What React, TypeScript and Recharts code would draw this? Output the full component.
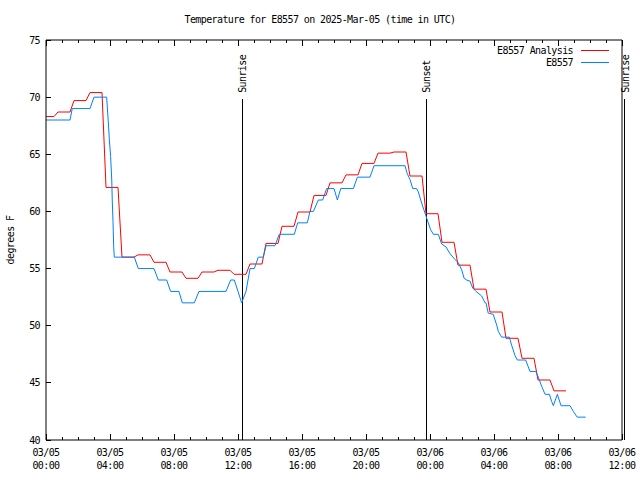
import React from 'react';
import { LineChart, Line, XAxis, YAxis, ReferenceLine } from 'recharts';

const FONT = "'DejaVu Sans Mono', monospace";

// E8557 Analysis: hourly values (hour 0 .. 32)
const analysisHours = [0, 1, 2, 3, 4, 5, 6, 7, 8, 9, 10, 11, 12, 13, 14, 15, 16, 17, 18, 19, 20, 21, 22, 23, 24, 25, 26, 27, 28, 29, 30, 31, 32];
const analysisTemps = [68.3, 68.7, 69.7, 70.4, 62.1, 56.0, 56.2, 55.55, 54.7, 54.15, 54.7, 54.85, 54.5, 55.4, 57.2, 58.7, 59.95, 61.4, 62.5, 63.2, 64.2, 65.1, 65.2, 63.1, 59.8, 57.3, 55.3, 53.2, 51.2, 48.9, 47.15, 45.25, 44.3];

// E8557 observations: hours since 03/05 00:00 UTC
const obsHours = [0, 1.5, 1.64, 2.75, 3.0, 3.79, 3.89, 3.96, 4.04, 4.11, 4.14, 4.19, 4.23, 4.27, 5.52, 5.77, 6.75, 7.02, 7.54, 7.79, 8.31, 8.52, 9.27, 9.56, 11.25, 11.54, 11.77, 12.23, 12.5, 12.75, 13.02, 13.27, 13.58, 13.75, 14.31, 14.58, 15.52, 15.73, 16.33, 16.5, 16.71, 17.02, 17.29, 17.54, 18.0, 18.21, 18.42, 19.21, 19.46, 20.25, 20.5, 22.44, 22.58, 22.75, 22.92, 23.17, 23.27, 23.42, 23.58, 23.75, 23.89, 24.04, 24.21, 24.52, 24.73, 25.0, 25.25, 25.56, 25.77, 25.98, 26.13, 26.29, 26.5, 26.67, 26.88, 27.23, 27.44, 27.5, 27.64, 27.95, 28.17, 28.27, 28.48, 28.96, 29.1, 29.31, 29.46, 29.98, 30.14, 30.25, 30.61, 30.77, 30.98, 31.19, 31.46, 31.61, 31.71, 31.96, 32.19, 32.75, 32.96, 33.2, 33.73];
const obsTemps = [68, 68, 69, 69, 70, 70, 67.9, 66.25, 64.8, 62.75, 61, 59, 56.9, 56, 56, 55, 55, 54, 54, 53, 53, 52, 52, 53, 53, 54, 54, 52, 53, 55, 55, 56, 56, 57, 57, 58, 58, 59, 59, 60, 60, 61, 61, 62, 62, 61, 62, 62, 63, 63, 64, 64, 63.3, 62.8, 62, 62, 61.7, 61, 60.3, 59.6, 59, 58.4, 58, 58, 57.15, 56.9, 56.3, 55.8, 55.5, 54.9, 54.15, 54, 53.9, 53.3, 53, 52.6, 52, 52, 51.1, 51, 50.05, 49.5, 49, 49, 48.3, 47.4, 47, 47, 46.4, 46, 46, 45.5, 44.7, 44, 44, 43.35, 43, 44, 43, 43, 42.5, 42, 42];

// sun events (hours)
const sunEvents = [
  { name: 'Sunrise', hour: 12.25 },
  { name: 'Sunset', hour: 23.75 },
  { name: 'Sunrise', hour: 36.16 },
];

const xMajorHours = [0, 4, 8, 12, 16, 20, 24, 28, 32, 36];
const xDateLabels = ['03/05', '03/05', '03/05', '03/05', '03/05', '03/05', '03/06', '03/06', '03/06', '03/06'];
const xTimeLabels = ['00:00', '04:00', '08:00', '12:00', '16:00', '20:00', '00:00', '04:00', '08:00', '12:00'];
const xAllHours = Array.from({ length: 37 }, (_, i) => i);
const yTicks = [40, 45, 50, 55, 60, 65, 70, 75];

// analysis value holds for 45 min, then ramps to the next hour's value
const analysisData = analysisHours.flatMap((h, i) => [
  { t: Math.max(0, h - 0.25), v: analysisTemps[i] },
  { t: h + 0.5, v: analysisTemps[i] },
]);
const obsData = obsHours.map((t, i) => ({ t, v: obsTemps[i] }));

const textStyle = { fontFamily: FONT, fontSize: 10, letterSpacing: -0.6, fill: '#000' };

const BottomTick = (props: any) => {
  const { x, y, payload } = props;
  const idx = xMajorHours.indexOf(payload.value);
  const major = idx >= 0;
  return (
    <g>
      <line x1={x} y1={y} x2={x} y2={y - (major ? 6 : 3)} stroke="#000" shapeRendering="crispEdges" />
      {major && (
        <>
          <text x={x} y={y + 16} textAnchor="middle" style={textStyle}>{xDateLabels[idx]}</text>
          <text x={x} y={y + 29} textAnchor="middle" style={textStyle}>{xTimeLabels[idx]}</text>
        </>
      )}
    </g>
  );
};

const TopTick = (props: any) => {
  const { x, y, payload } = props;
  const major = xMajorHours.indexOf(payload.value) >= 0;
  return <line x1={x} y1={y} x2={x} y2={y + (major ? 6 : 3)} stroke="#000" shapeRendering="crispEdges" />;
};

const LeftTick = (props: any) => {
  const { x, y, payload } = props;
  return (
    <g>
      <line x1={x} y1={y} x2={x + 5} y2={y} stroke="#000" shapeRendering="crispEdges" />
      <text x={x - 6} y={y} textAnchor="end" dominantBaseline="central" style={textStyle}>{payload.value}</text>
    </g>
  );
};

const RightTick = (props: any) => {
  const { x, y } = props;
  return <line x1={x} y1={y} x2={x - 5} y2={y} stroke="#000" shapeRendering="crispEdges" />;
};

const SunLabel = (props: any) => {
  const vb = props.viewBox || {};
  const x = vb.x ?? vb.x1;
  const y = vb.y ?? Math.min(vb.y1, vb.y2);
  const px = x + 4;
  const py = y - 6;
  return (
    <text x={px} y={py} transform={`rotate(-90 ${px} ${py})`} textAnchor="start" style={textStyle}>
      {props.text}
    </text>
  );
};

const YTitle = () => (
  <text x={14} y={240} transform="rotate(-90 14 240)" textAnchor="middle" style={textStyle}>degrees F</text>
);

const legendRow = (label: string, color: string, top: number) => (
  <div style={{ position: 'absolute', right: 31, top, height: 12, display: 'flex', alignItems: 'center', fontFamily: FONT, fontSize: 10, letterSpacing: -0.6 }}>
    <span>{label}</span>
    <div style={{ width: 28, height: 1, background: color, marginLeft: 8 }} />
  </div>
);

export default function App() {
  return (
    <div style={{ position: 'absolute', left: 0, top: 0, width: 640, height: 480, background: '#fff' }}>
      <div style={{ position: 'absolute', left: 0, top: 14, width: 640, textAlign: 'center', fontFamily: FONT, fontSize: 10, letterSpacing: -0.6 }}>
        Temperature for E8557 on 2025-Mar-05 (time in UTC)
      </div>
      <LineChart width={640} height={480} margin={{ top: 39, right: 17, bottom: 0, left: 0 }}>
        <XAxis
          xAxisId="bottom"
          dataKey="t"
          type="number"
          domain={[0, 36]}
          ticks={xAllHours}
          interval={0}
          allowDataOverflow
          height={40}
          tickSize={0}
          tickMargin={0}
          tickLine={false}
          stroke="#000"
          tick={<BottomTick />}
        />
        <XAxis
          xAxisId="top"
          orientation="top"
          dataKey="t"
          type="number"
          domain={[0, 36]}
          ticks={xAllHours}
          interval={0}
          allowDataOverflow
          height={1}
          tickSize={0}
          tickMargin={0}
          tickLine={false}
          stroke="#000"
          tick={<TopTick />}
        />
        <YAxis
          yAxisId="left"
          type="number"
          domain={[40, 75]}
          ticks={yTicks}
          interval={0}
          width={46}
          tickSize={0}
          tickMargin={0}
          tickLine={false}
          stroke="#000"
          tick={<LeftTick />}
          label={<YTitle />}
        />
        <YAxis
          yAxisId="right"
          orientation="right"
          type="number"
          domain={[40, 75]}
          ticks={yTicks}
          interval={0}
          width={1}
          tickSize={0}
          tickMargin={0}
          tickLine={false}
          stroke="#000"
          tick={<RightTick />}
        />
        {sunEvents.map((s, i) => (
          <ReferenceLine
            key={i}
            xAxisId="bottom"
            yAxisId="left"
            segment={[{ x: s.hour, y: 69.85 }, { x: s.hour, y: 40 }]}
            stroke="#000"
            ifOverflow="visible"
            shapeRendering="crispEdges"
            label={<SunLabel text={s.name} />}
          />
        ))}
        <Line
          xAxisId="bottom"
          yAxisId="left"
          data={analysisData}
          dataKey="v"
          type="linear"
          stroke="#ff0000"
          strokeWidth={1}
          dot={false}
          isAnimationActive={false}
        />
        <Line
          xAxisId="bottom"
          yAxisId="left"
          data={obsData}
          dataKey="v"
          type="linear"
          stroke="#0080ff"
          strokeWidth={1}
          dot={false}
          isAnimationActive={false}
        />
      </LineChart>
      {legendRow('E8557 Analysis', '#ff0000', 44)}
      {legendRow('E8557', '#0080ff', 56)}
    </div>
  );
}
